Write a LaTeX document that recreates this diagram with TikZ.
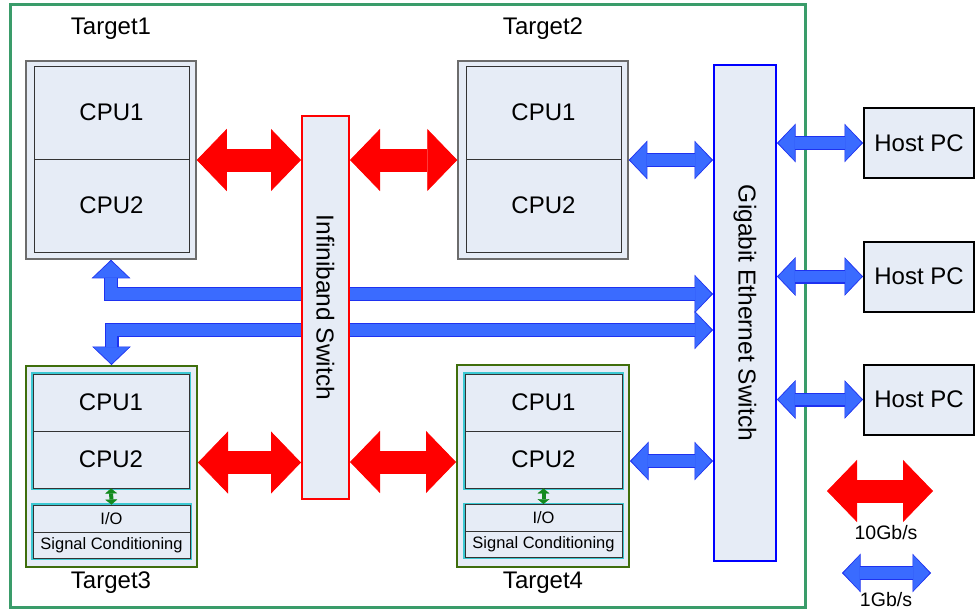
\documentclass[tikz,border=0pt]{standalone}
\usepackage{fontspec}
\setmainfont{Liberation Sans}
\usepackage{tikz}
\usetikzlibrary{arrows.meta,positioning,calc}
\definecolor{frameg}{HTML}{3A9C6A}
\definecolor{boxfill}{HTML}{E6ECF6}
\definecolor{tgtgreen}{HTML}{3F6E0C}
\definecolor{cyanrim}{HTML}{3CC8D2}
\definecolor{linkblue}{HTML}{3A6BFF}
\definecolor{rimblue}{HTML}{1E32F0}
\definecolor{iogreen}{HTML}{138A1E}

\begin{document}
\begin{tikzpicture}[x=1pt,y=-1pt,
    shell/.style={draw=gray!85!black, line width=1.5pt, fill=boxfill},
    tgtshell/.style={draw=tgtgreen, line width=2pt, fill=boxfill},
    pack/.style={draw=black!80, line width=0.9pt, fill=boxfill, inner sep=0pt},
    rim/.style={preaction={draw=cyanrim, line width=3.5pt}},
    cell/.style={inner sep=0pt, minimum width=155pt, font=\fontsize{24}{28}\selectfont},
    small/.style={inner sep=0pt, minimum width=157pt, font=\fontsize{16.5}{19}\selectfont},
    title/.style={font=\fontsize{24}{28}\selectfont},
    switchbox/.style={line width=2pt, fill=boxfill, inner sep=0pt, font=\fontsize{24.5}{28}\selectfont},
    hostbox/.style={draw=black, line width=2pt, fill=boxfill, minimum width=110pt, minimum height=70pt, font=\fontsize{24}{28}\selectfont},
    redlink/.style={draw=red, line width=23pt,
      {Triangle[length=30pt,width=62pt,line width=0.8pt]}-{Triangle[length=30pt,width=62pt,line width=0.8pt]}},
    bluelink/.style={preaction={draw=rimblue, line width=14pt, shorten >=0pt, shorten <=0pt,
      {Triangle[length=18.5pt,width=38.5pt,line width=0.6pt]}-{Triangle[length=18.5pt,width=38.5pt,line width=0.6pt]}},
      draw=linkblue, line width=11.5pt, shorten >=1.4pt, shorten <=1.4pt,
      {Triangle[length=16.5pt,width=35pt,line width=0.6pt]}-{Triangle[length=16.5pt,width=35pt,line width=0.6pt]}},
    iolink/.style={draw=iogreen, line width=4pt,
      {Triangle[length=5pt,width=12pt,line width=0.4pt]}-{Triangle[length=5pt,width=12pt,line width=0.4pt]}},
    legtext/.style={font=\fontsize{19.5}{22}\selectfont}
  ]
  \path[use as bounding box] (0,0) rectangle (975,611);
  % outer frame
  \draw[frameg, line width=3pt] (10,4) rectangle (805,607);

  % Target1
  \node[title] (t1lbl) at (111,29) {Target1};
  \node[shell, minimum width=170pt, minimum height=198pt] (t1) at (111,160) {};
  \node[pack, minimum width=155pt, minimum height=186pt] (t1pk) at (111.5,159) {};
  \node[cell, minimum height=93pt, below=0pt of t1pk.north] (t1c1) {CPU1};
  \node[cell, minimum height=93pt, below=0pt of t1c1] (t1c2) {CPU2};
  \draw[black!80, line width=0.9pt] (t1c1.south west) -- (t1c1.south east);

  % Target2
  \node[title] (t2lbl) at (543,29) {Target2};
  \node[shell, minimum width=170pt, minimum height=198pt] (t2) at (543,160) {};
  \node[pack, minimum width=155pt, minimum height=186pt] (t2pk) at (543.5,159) {};
  \node[cell, minimum height=93pt, below=0pt of t2pk.north] (t2c1) {CPU1};
  \node[cell, minimum height=93pt, below=0pt of t2c1] (t2c2) {CPU2};
  \draw[black!80, line width=0.9pt] (t2c1.south west) -- (t2c1.south east);

  % Target3
  \node[tgtshell, minimum width=171pt, minimum height=201pt] (t3) at (111.5,466.5) {};
  \node[pack, rim, minimum width=156pt, minimum height=114pt] (t3pk) at (111,431) {};
  \node[cell, minimum height=57pt, below=0pt of t3pk.north] (t3c1) {CPU1};
  \node[cell, minimum height=57pt, below=0pt of t3c1] (t3c2) {CPU2};
  \draw[black!80, line width=0.9pt] (t3c1.south west) -- (t3c1.south east);
  \node[pack, rim, minimum width=157pt, minimum height=53pt] (t3io) at (111.5,531.5) {};
  \node[small, minimum height=27pt, below=0pt of t3io.north] (t3i1) {I/O};
  \node[small, minimum height=26pt, below=0pt of t3i1] (t3i2) {Signal Conditioning};
  \draw[black!80, line width=0.9pt] (t3i1.south west) -- (t3i1.south east);
  \draw[iolink] (t3pk.south) -- (t3io.north);
  \node[title] (t3lbl) at (111,583) {Target3};

  % Target4
  \node[tgtshell, minimum width=172pt, minimum height=202pt] (t4) at (543,466) {};
  \node[pack, rim, minimum width=157pt, minimum height=114pt] (t4pk) at (543.5,431) {};
  \node[cell, minimum height=57pt, below=0pt of t4pk.north] (t4c1) {CPU1};
  \node[cell, minimum height=57pt, below=0pt of t4c1] (t4c2) {CPU2};
  \draw[black!80, line width=0.9pt] (t4c1.south west) -- (t4c1.south east);
  \node[pack, rim, minimum width=157pt, minimum height=53pt] (t4io) at (543.5,531) {};
  \node[small, minimum height=27pt, below=0pt of t4io.north] (t4i1) {I/O};
  \node[small, minimum height=26pt, below=0pt of t4i1] (t4i2) {Signal Conditioning};
  \draw[black!80, line width=0.9pt] (t4i1.south west) -- (t4i1.south east);
  \draw[iolink] (t4pk.south) -- (t4io.north);
  \node[title] (t4lbl) at (543,583) {Target4};

  % switches
  \node[switchbox, draw=blue, minimum width=62pt, minimum height=496pt] (ge) at (745,313)
    {\rotatebox{-90}{Gigabit Ethernet Switch}};
  % links Target1/Target3 to the Ethernet switch, behind the Infiniband switch
  \draw[bluelink] (t1.south) |- ([yshift=19pt]ge.west);
  \draw[bluelink] ([yshift=-17pt]ge.west) -| (t3.north);
  \node[switchbox, draw=red, minimum width=47pt, minimum height=383pt] (ib) at (325.5,307.5)
    {\rotatebox{-90}{Infiniband Switch}};

  % 10Gb/s links
  \draw[redlink] (t1.east) -- (t1.east -| ib.west);
  \draw[redlink] (t2.west -| ib.east) -- (t2.west);
  \draw[redlink] ([yshift=4pt]t3.east) -- ([yshift=4pt]t3.east -| ib.west);
  \draw[redlink] ([yshift=4pt]t4.west -| ib.east) -- ([yshift=4pt]t4.west);

  % 1Gb/s links
  \draw[bluelink] (t2.east) -- (t2.east -| ge.west);
  \draw[bluelink] ([yshift=5pt]t4.east) -- ([yshift=5pt]t4.east -| ge.west);

  % host PCs
  \node[hostbox] (h1) at (919,143) {Host PC};
  \node[hostbox] (h2) at (919,276.5) {Host PC};
  \node[hostbox] (h3) at (919,399.5) {Host PC};
  \draw[bluelink] (ge.east |- h1.west) -- (h1.west);
  \draw[bluelink] (ge.east |- h2.west) -- (h2.west);
  \draw[bluelink] (ge.east |- h3.west) -- (h3.west);

  % legend
  \coordinate (r10a) at (827,491);
  \coordinate (r10b) at (933,491);
  \coordinate (b1a) at (842,573);
  \coordinate (b1b) at (931,573);
  \draw[redlink] (r10a) -- (r10b);
  \draw[bluelink] (b1a) -- (b1b);
  \node[legtext] (r10lbl) at (886,533) {10Gb/s};
  \node[legtext] (b1lbl) at (886,600) {1Gb/s};
\end{tikzpicture}
\end{document}
